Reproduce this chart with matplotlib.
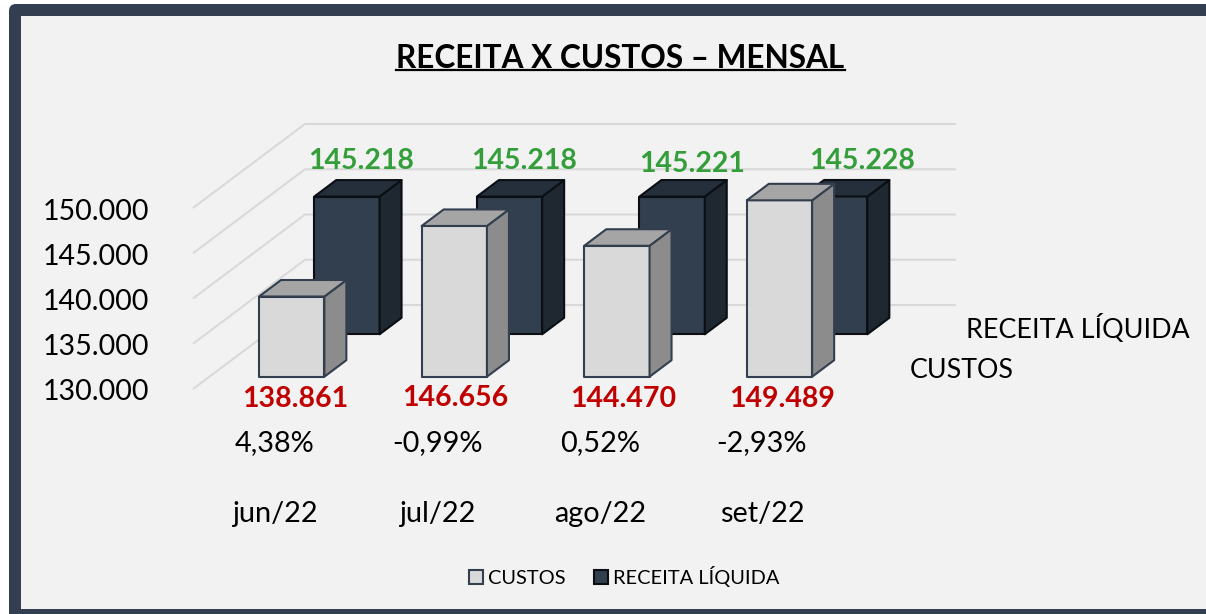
import matplotlib
matplotlib.use("Agg")
import matplotlib.pyplot as plt
from matplotlib.patches import FancyBboxPatch, Patch, Polygon, Rectangle
from matplotlib.transforms import Affine2D

months = ["jun/22", "jul/22", "ago/22", "set/22"]
custos = [138861, 146656, 144470, 149489]
receita = [145218, 145218, 145221, 145228]
variacao = ["4,38%", "-0,99%", "0,52%", "-2,93%"]
y_ticks = [130000, 135000, 140000, 145000, 150000]

W, H = 1206, 614
plt.rcParams["font.family"] = ["Lato", "DejaVu Sans"]
BG = "#f2f2f2"
NAVY = "#333f50"

fig = plt.figure(figsize=(W / 100, H / 100), dpi=100, facecolor="white")
ax = fig.add_axes([0, 0, 1, 1])
ax.axis("off")

# scales
PX_CAT, X0 = 162.6, 291.7
PX_VAL, Y0, BASE = 0.00905, 376.7, 130000
ax.set_xlim(-X0 / PX_CAT, (W - X0) / PX_CAT)
ax.set_ylim(BASE - (H - Y0) / PX_VAL, BASE + Y0 / PX_VAL)


def dx(p):
    return p / PX_CAT


def dy(p):
    return p / PX_VAL


px = Affine2D().scale(1, -1).translate(0, H)

# frame
ax.add_patch(FancyBboxPatch((9, 4), 1400, 700, boxstyle="round,pad=0,rounding_size=7",
                            transform=px, facecolor=NAVY, edgecolor="none", zorder=0))
ax.add_patch(Rectangle((21, 16), 1400, 593, transform=px, facecolor=BG, edgecolor="none", zorder=0.5))

# gridlines (oblique side wall + back wall)
for v in y_ticks:
    xs = [dx(193 - X0), dx(305 - X0), dx(956 - X0)]
    ys = [v - dy(12.3), v + dy(71.7), v + dy(71.7)]
    ax.plot(xs, ys, color="#d9d9d9", lw=1.5, zorder=1, solid_capstyle="butt")


def bars3d(values, off_x, off_y, front, top, side, edge, z):
    width = 65.3 / PX_CAT
    dpx, dpy = dx(22), dy(16.5)
    for i, v in enumerate(values):
        l = i + dx(off_x) - width / 2
        r = l + width
        b = BASE + dy(off_y)
        t = v + dy(off_y)
        kw = dict(edgecolor=edge, linewidth=1.5, joinstyle="round", zorder=z)
        ax.bar(l + width / 2, t - b, width=width, bottom=b, color=front, **kw)
        ax.add_patch(Polygon([(r, b), (r + dpx, b + dpy), (r + dpx, t + dpy), (r, t)], facecolor=side, **kw))
        ax.add_patch(Polygon([(l, t), (r, t), (r + dpx, t + dpy), (l + dpx, t + dpy)], facecolor=top, **kw))


bars3d(receita, 55.2, 42.4, "#323f4f", "#252f3b", "#1f2730", "#0b0f14", 2)
bars3d(custos, 0, 0, "#d9d9d9", "#a5a5a5", "#8c8c8c", "#333e4e", 3)


def label(x, y, s, size, color="#000000", weight="normal", ha="center"):
    return ax.text(x, y, s, transform=px, fontsize=size, color=color, fontweight=weight,
                   ha=ha, va="center", zorder=5)


# title with underline
title = label(620.5, 58, "RECEITA X CUSTOS – MENSAL", 22.7, weight="bold")
fig.canvas.draw()
bb = title.get_window_extent()
ax.plot([bb.x0, bb.x1], [70, 70], transform=px, color="black", lw=1.6, zorder=5)

fmt = lambda v: f"{v:,}".replace(",", ".")

# y-axis labels
for v, yp in zip(y_ticks, [389, 344, 299, 254, 209]):
    label(149.5, yp + 3, fmt(v), 20.5, ha="right")

for v, (x, y) in zip(receita, [(361, 161), (524, 161), (692, 164), (862, 161)]):
    label(x, y, fmt(v), 20.5, "#339e3a", "bold")
for v, (x, y) in zip(custos, [(295, 399), (455, 398), (623, 399), (782, 399)]):
    label(x, y, fmt(v), 20.5, "#c00000", "bold")
for s, m, x in zip(variacao, months, [275, 437, 600, 762]):
    label(x, 443, s, 20.8)
    label(x, 514, m, 20.8)

label(966, 329, "RECEITA LÍQUIDA", 19.4, ha="left")
label(910, 371, "CUSTOS", 19.3, ha="left")

# legend
handles = [Patch(facecolor="#d9d9d9", edgecolor="#333e4e", lw=1.5, label="CUSTOS"),
           Patch(facecolor="#323f4f", edgecolor="#0b0f14", lw=1.5, label="RECEITA LÍQUIDA")]
ax.legend(handles=handles, ncols=2, frameon=False, fontsize=14.4, loc="center",
          bbox_to_anchor=(624 / W, 1 - 576.5 / H), handlelength=0.72, handleheight=0.72,
          handletextpad=0.25, columnspacing=1.4, borderpad=0, labelcolor="black")

fig.savefig("out.png", dpi=100, facecolor="white")
